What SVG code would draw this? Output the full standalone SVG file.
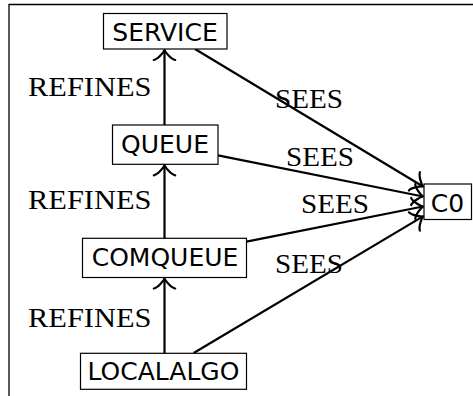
<svg xmlns="http://www.w3.org/2000/svg" width="473" height="396" viewBox="0 0 473 396">
<style>
.box{fill:#fff;stroke:#000;stroke-width:1.2}
.sans{font-family:"DejaVu Sans",sans-serif;font-size:25px;fill:#000;text-anchor:middle}
.serif{font-family:"Liberation Serif",serif;font-size:27.5px;fill:#000}
.edge{fill:none;stroke:#000;stroke-width:2.2;marker-end:url(#to)}
</style>
<defs>
<marker id="to" markerUnits="userSpaceOnUse" orient="auto" markerWidth="24" markerHeight="24" refX="0" refY="0" viewBox="-12 -12 24 24" overflow="visible">
<path d="M-10,10.7 C-9.3,6.7 -2,0.7 0,0 C-2,-0.7 -9.3,-6.7 -10,-10.7" fill="none" stroke="#000" stroke-width="2.2" stroke-linecap="round" stroke-linejoin="round"/>
</marker>
</defs>
<rect width="473" height="396" fill="#fff"/>
<path d="M9,396 V4.5 H473" fill="none" stroke="#000" stroke-width="1.3"/>
<g id="connectors">
<line class="edge" x1="164.5" y1="125" x2="164.5" y2="50"/>
<line class="edge" x1="164.5" y1="238.3" x2="164.5" y2="165.3"/>
<line class="edge" x1="164.5" y1="353.3" x2="164.5" y2="278.5"/>
<line class="edge" x1="195" y1="49" x2="423" y2="186.5"/>
<line class="edge" x1="218" y1="155.3" x2="423" y2="196.5"/>
<line class="edge" x1="246.5" y1="241.6" x2="423" y2="206.5"/>
<line class="edge" x1="193.7" y1="353" x2="423" y2="216.4"/>
<text class="serif" x="28" y="95.7" textLength="123.5" lengthAdjust="spacingAndGlyphs">REFINES</text>
<text class="serif" x="28" y="209" textLength="123.5" lengthAdjust="spacingAndGlyphs">REFINES</text>
<text class="serif" x="28" y="327.3" textLength="123.5" lengthAdjust="spacingAndGlyphs">REFINES</text>
<text class="serif" x="275" y="108.3" textLength="68" lengthAdjust="spacingAndGlyphs">SEES</text>
<text class="serif" x="286" y="166" textLength="68" lengthAdjust="spacingAndGlyphs">SEES</text>
<text class="serif" x="301" y="213.3" textLength="68" lengthAdjust="spacingAndGlyphs">SEES</text>
<text class="serif" x="275" y="273.3" textLength="68" lengthAdjust="spacingAndGlyphs">SEES</text>
</g>
<g id="SERVICE">
<rect class="box" x="103.5" y="13.5" width="123.5" height="35.5"/>
<text class="sans" x="165" y="41">SERVICE</text>
</g>
<g id="QUEUE">
<rect class="box" x="112.5" y="125" width="105.5" height="39.3"/>
<text class="sans" x="165" y="153">QUEUE</text>
</g>
<g id="COMQUEUE">
<rect class="box" x="82.5" y="238.3" width="164" height="39.2"/>
<text class="sans" x="165" y="266">COMQUEUE</text>
</g>
<g id="LOCALALGO">
<rect class="box" x="80.5" y="353.3" width="166" height="36"/>
<text class="sans" x="163.5" y="380">LOCALALGO</text>
</g>
<g id="C0">
<rect class="box" x="424" y="184" width="47.5" height="35.5"/>
<text class="sans" x="447.5" y="211.5">C0</text>
</g>
</svg>
